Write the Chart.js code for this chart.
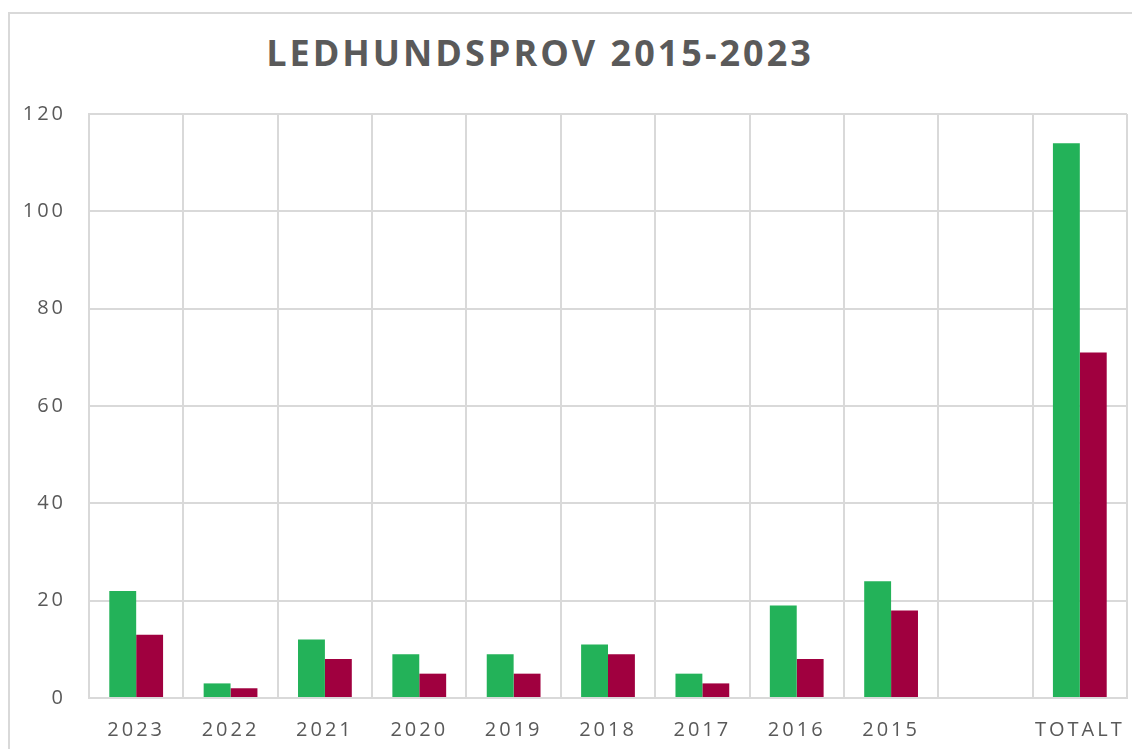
<!DOCTYPE html>
<html>
<head>
<meta charset="utf-8">
<script src="https://cdn.jsdelivr.net/npm/chart.js@4"></script>
<style>
  html, body { margin: 0; padding: 0; background: #fff; overflow: hidden; }
  #frame { position: absolute; left: 8px; top: 12px; width: 1200px; height: 800px; border: 2px solid #d9d9d9; box-sizing: border-box; }
  #title { position: absolute; left: 0; top: 28px; width: 1080px; text-align: center;
           font: bold 36px "Open Sans", sans-serif; color: #5a5a5a; letter-spacing: 3px; line-height: 50px; }
  #wrap { position: absolute; left: 0; top: 0; width: 1132px; height: 749px; }
</style>
</head>
<body>
<div id="frame"></div>
<div id="title">LEDHUNDSPROV 2015-2023</div>
<div id="wrap"><canvas id="c"></canvas></div>
<script>
// kategorier (tom kolumn före TOTALT)
const years = ["2023", "2022", "2021", "2020", "2019", "2018", "2017", "2016", "2015", "", "TOTALT"];
// avlästa värden ur bilden
const gronaStaplar = [22, 3, 12, 9, 9, 11, 5, 19, 24, null, 114];
const rodaStaplar  = [13, 2, 8, 5, 5, 9, 3, 8, 18, null, 71];
const yTicks = [0, 20, 40, 60, 80, 100, 120];

const GRID = "#d9d9d9";
const TEXT = "#595959";

// bokstavsavstånd på axeltexterna (canvas letterSpacing)
const spacingPlugin = {
  id: "spacing",
  beforeInit(chart) { chart.ctx.letterSpacing = "3px"; },
  beforeDraw(chart) { chart.ctx.letterSpacing = "3px"; },
};

new Chart(document.getElementById("c"), {
  type: "bar",
  data: {
    labels: years,
    datasets: [
      { label: "Grön", data: gronaStaplar, backgroundColor: "#23b259", categoryPercentage: 0.57, barPercentage: 1.0 },
      { label: "Röd", data: rodaStaplar, backgroundColor: "#a0003f", categoryPercentage: 0.57, barPercentage: 1.0 },
    ],
  },
  options: {
    responsive: true,
    maintainAspectRatio: false,
    animation: false,
    layout: { padding: { top: 114, right: 5, left: 0, bottom: 0 } },
    plugins: { legend: { display: false }, tooltip: { enabled: false }, title: { display: false } },
    scales: {
      x: {
        grid: { color: GRID, lineWidth: 2, offset: true, drawTicks: false },
        border: { color: GRID, width: 2 },
        ticks: { color: TEXT, font: { family: "Open Sans", size: 20 }, padding: 20, maxRotation: 0, autoSkip: false },
        afterFit(s) { s.height = 51; s.paddingLeft = 0; s.paddingRight = 0; },
      },
      y: {
        min: 0, max: 120,
        afterBuildTicks(s) { s.ticks = yTicks.map((v) => ({ value: v })); },
        grid: { color: GRID, lineWidth: 2, drawTicks: false },
        border: { color: GRID, width: 2 },
        ticks: { color: TEXT, font: { family: "Open Sans", size: 20 }, padding: 23 },
        afterFit(s) { s.width = 89; s.paddingTop = 0; s.paddingBottom = 0; },
      },
    },
  },
  plugins: [spacingPlugin],
});
</script>
</body>
</html>
